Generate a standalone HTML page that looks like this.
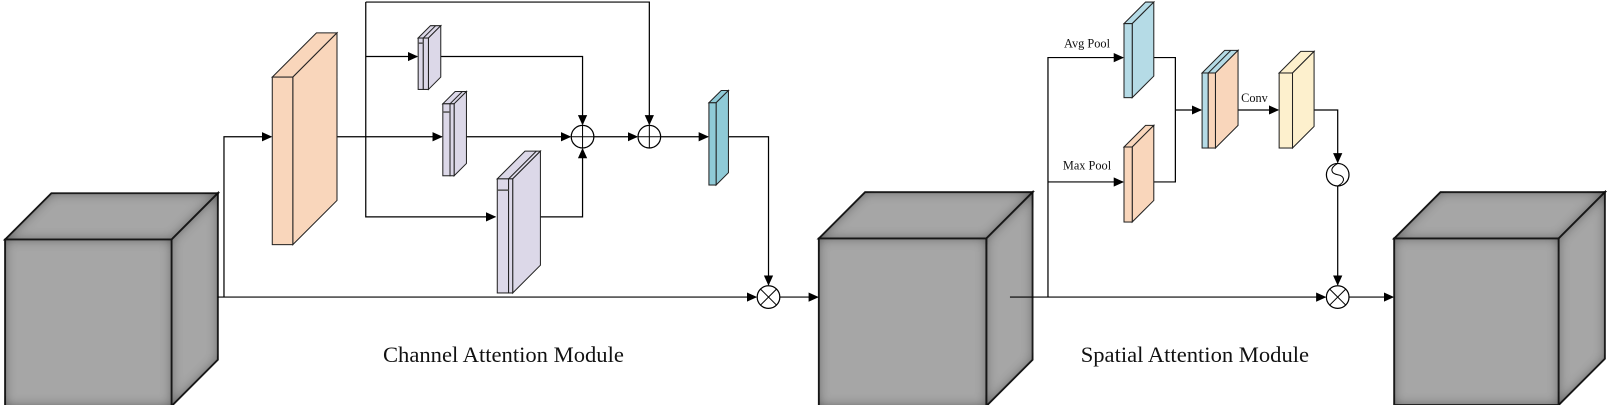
<!DOCTYPE html>
<html><head><meta charset="utf-8">
<style>
html,body{margin:0;padding:0;background:#fff;}
svg{display:block;}
text{font-family:"Liberation Serif",serif;fill:#111;}
</style></head>
<body>
<svg id="diagram" width="1611" height="405" viewBox="0 0 1568 394" preserveAspectRatio="none" xmlns="http://www.w3.org/2000/svg">
<defs>
  <marker id="arr" markerWidth="10" markerHeight="10" refX="9" refY="5" orient="auto" markerUnits="userSpaceOnUse">
    <path d="M0,0.5 L10,5 L0,9.5 Z" fill="#000"/>
  </marker>
  <filter id="inner" x="-20%" y="-20%" width="140%" height="140%">
    <feFlood flood-color="#000" result="f"/>
    <feComposite in="f" in2="SourceAlpha" operator="out" result="o"/>
    <feGaussianBlur in="o" stdDeviation="6" result="b"/>
    <feComposite in="b" in2="SourceAlpha" operator="in" result="s"/>
    <feComponentTransfer in="s" result="s2"><feFuncA type="linear" slope="0.9"/></feComponentTransfer>
    <feMerge><feMergeNode in="SourceGraphic"/><feMergeNode in="s2"/></feMerge>
  </filter>
</defs>
<g id="layer" stroke="#000" stroke-width="1.2" fill="none"></g>
</svg>
<script>
const NS='http://www.w3.org/2000/svg';
const g=document.getElementById('layer');
function el(tag,attrs,parent){const e=document.createElementNS(NS,tag);for(const k in attrs)e.setAttribute(k,attrs[k]);(parent||g).appendChild(e);return e;}
function line(pts,arrow,name){
  const e=el('polyline',{points:pts.map(p=>p.join(',')).join(' '),fill:'none',stroke:'#000','stroke-width':1.2});
  if(arrow)e.setAttribute('marker-end','url(#arr)');
  
  
}
function cube(x,y,w,h,d,name){
  const grp=el('g',{});
  
  
  const faces=[
    [[x,y],[x+d,y-d],[x+w+d,y-d],[x+w,y]],
    [[x+w,y],[x+w+d,y-d],[x+w+d,y+h-d],[x+w,y+h]],
    [[x,y],[x+w,y],[x+w,y+h],[x,y+h]]
  ];
  faces.forEach(f=>{el('polygon',{points:f.map(p=>p.join(',')).join(' '),fill:'#a6a6a6',stroke:'#222','stroke-width':1.8,filter:'url(#inner)'},grp);});
}
function slab(x,y,layers,h,d,name,band){
  const grp=el('g',{});
  
  
  let total=layers.reduce((s,l)=>s+l[0],0);
  const backCol=layers[layers.length-1][1];
  el('polygon',{points:`${x},${y} ${x+d},${y-d} ${x+total+d},${y-d} ${x+total},${y}`,fill:layers[0][1],stroke:'#222','stroke-width':1},grp);
  el('polygon',{points:`${x+total},${y} ${x+total+d},${y-d} ${x+total+d},${y+h-d} ${x+total},${y+h}`,fill:backCol,stroke:'#222','stroke-width':1},grp);
  let cx=x;
  layers.forEach(l=>{
    el('rect',{x:cx,y:y,width:l[0],height:h,fill:l[1],stroke:'#222','stroke-width':1},grp);
    if(cx>x) el('line',{x1:cx,y1:y,x2:cx+d,y2:y-d,stroke:'#222','stroke-width':1},grp);
    cx+=l[0];
  });
  if(band) el('line',{x1:x,y1:y+band,x2:x+layers[0][0],y2:y+band,stroke:'#555','stroke-width':1.5},grp);
}
function circ(cx,cy,type,name){
  const grp=el('g',{});
  
  
  const r=11;
  el('circle',{cx,cy,r,fill:'#fff',stroke:'#000','stroke-width':1.2},grp);
  if(type==='plus'){
    el('line',{x1:cx-r,y1:cy,x2:cx+r,y2:cy,stroke:'#000','stroke-width':1},grp);
    el('line',{x1:cx,y1:cy-r,x2:cx,y2:cy+r,stroke:'#000','stroke-width':1},grp);
  } else if(type==='times'){
    const k=r*0.707;
    el('line',{x1:cx-k,y1:cy-k,x2:cx+k,y2:cy+k,stroke:'#000','stroke-width':1},grp);
    el('line',{x1:cx-k,y1:cy+k,x2:cx+k,y2:cy-k,stroke:'#000','stroke-width':1},grp);
  } else {
    el('path',{d:`M${cx},${cy-r} C${cx-9},${cy-6} ${cx-6},${cy-1} ${cx},${cy} C${cx+6},${cy+1} ${cx+9},${cy+6} ${cx},${cy+r}`,fill:'none',stroke:'#000','stroke-width':1},grp);
  }
}
function label(x,y,size,txt,name){
  const t=el('text',{x,y,'font-size':size,'text-anchor':'middle',stroke:'none'});
  t.textContent=txt;
  
  
}
const PUR='#dcd8e8', ORA='#f9d6bb', TEAL='#8fcad7', BLUE='#b5dbe6', YEL='#fdf0cd';

cube(5,233,162,162,45,'input-feature-cube');
cube(797,232,163,163,45,'refined-feature-cube');
cube(1357,232,160,162,45,'output-feature-cube');

// channel attention
line([[212,289],[736,289]],true,'main-path-line-1');
line([[218,289],[218,133],[264,133]],true,'to-conv-line');
line([[305,133],[430,133]],true,'to-mid-pool-line');
line([[356,2],[356,211],[482,211]],true,'branch-low-line');
line([[356,55],[406,55]],true,'branch-top-line');
line([[356,2],[632,2],[632,121]],true,'skip-line');
line([[420,55],[567,55],[567,121]],true,'top-to-add-line');
line([[440,133],[555,133]],true,'mid-to-add-line');
line([[512,211],[567,211],[567,145]],true,'low-to-add-line');
line([[578,133],[620,133]],true,'add1-to-add2-line');
line([[643,133],[689,133]],true,'add2-to-teal-line');
line([[705,133],[748,133],[748,277]],true,'weights-down-line');
line([[759,289],[796,289]],true,'to-cube2-line');

slab(265,75,[[20,ORA]],163,43,'conv-feature-slab');
slab(407,37,[[5,PUR],[5,PUR]],50,12,'pool-slab-small',5);
slab(431,101,[[7,PUR],[4,PUR]],70,12,'pool-slab-medium',8);
slab(484,174,[[11,PUR],[4,PUR]],111,27,'pool-slab-large',11);
slab(690,100,[[7,TEAL]],80,12,'channel-weights-slab');

circ(567,133,'plus','add-node-1');
circ(632,133,'plus','add-node-2');
circ(748,289,'times','multiply-node-channel');
label(490,352,22,'Channel Attention Module','channel-attention-title');

// spatial attention
line([[983,289],[1290,289]],true,'main-path-line-2');
line([[1020,289],[1020,56],[1093,56]],true,'avg-pool-arrow');
line([[1020,177],[1093,177]],true,'max-pool-arrow');
line([[1110,56],[1144,56],[1144,177],[1110,177]],false,'pool-merge-line');
line([[1144,107],[1169,107]],true,'to-concat-line');
line([[1192,107],[1244,107]],true,'conv-arrow');
line([[1265,107],[1302,107],[1302,158]],true,'to-sigmoid-line');
line([[1302,181],[1302,277]],true,'sigmoid-to-multiply-line');
line([[1313,289],[1356,289]],true,'to-cube3-line');

slab(1094,23,[[8,BLUE]],72,21,'avg-pool-slab');
slab(1094,143,[[8,ORA]],73,21,'max-pool-slab');
slab(1170,71,[[6,BLUE],[7,ORA]],73,22,'concat-slab');
slab(1245,71,[[13,YEL]],73,21,'spatial-conv-slab');
circ(1302,170,'sig','sigmoid-node');
circ(1302,289,'times','multiply-node-spatial');
label(1058,46,12,'Avg Pool','avg-pool-label');
label(1058,165,12,'Max Pool','max-pool-label');
label(1221,99,12,'Conv','conv-label');
label(1163,352,22,'Spatial Attention Module','spatial-attention-title');
</script>
</body></html>
